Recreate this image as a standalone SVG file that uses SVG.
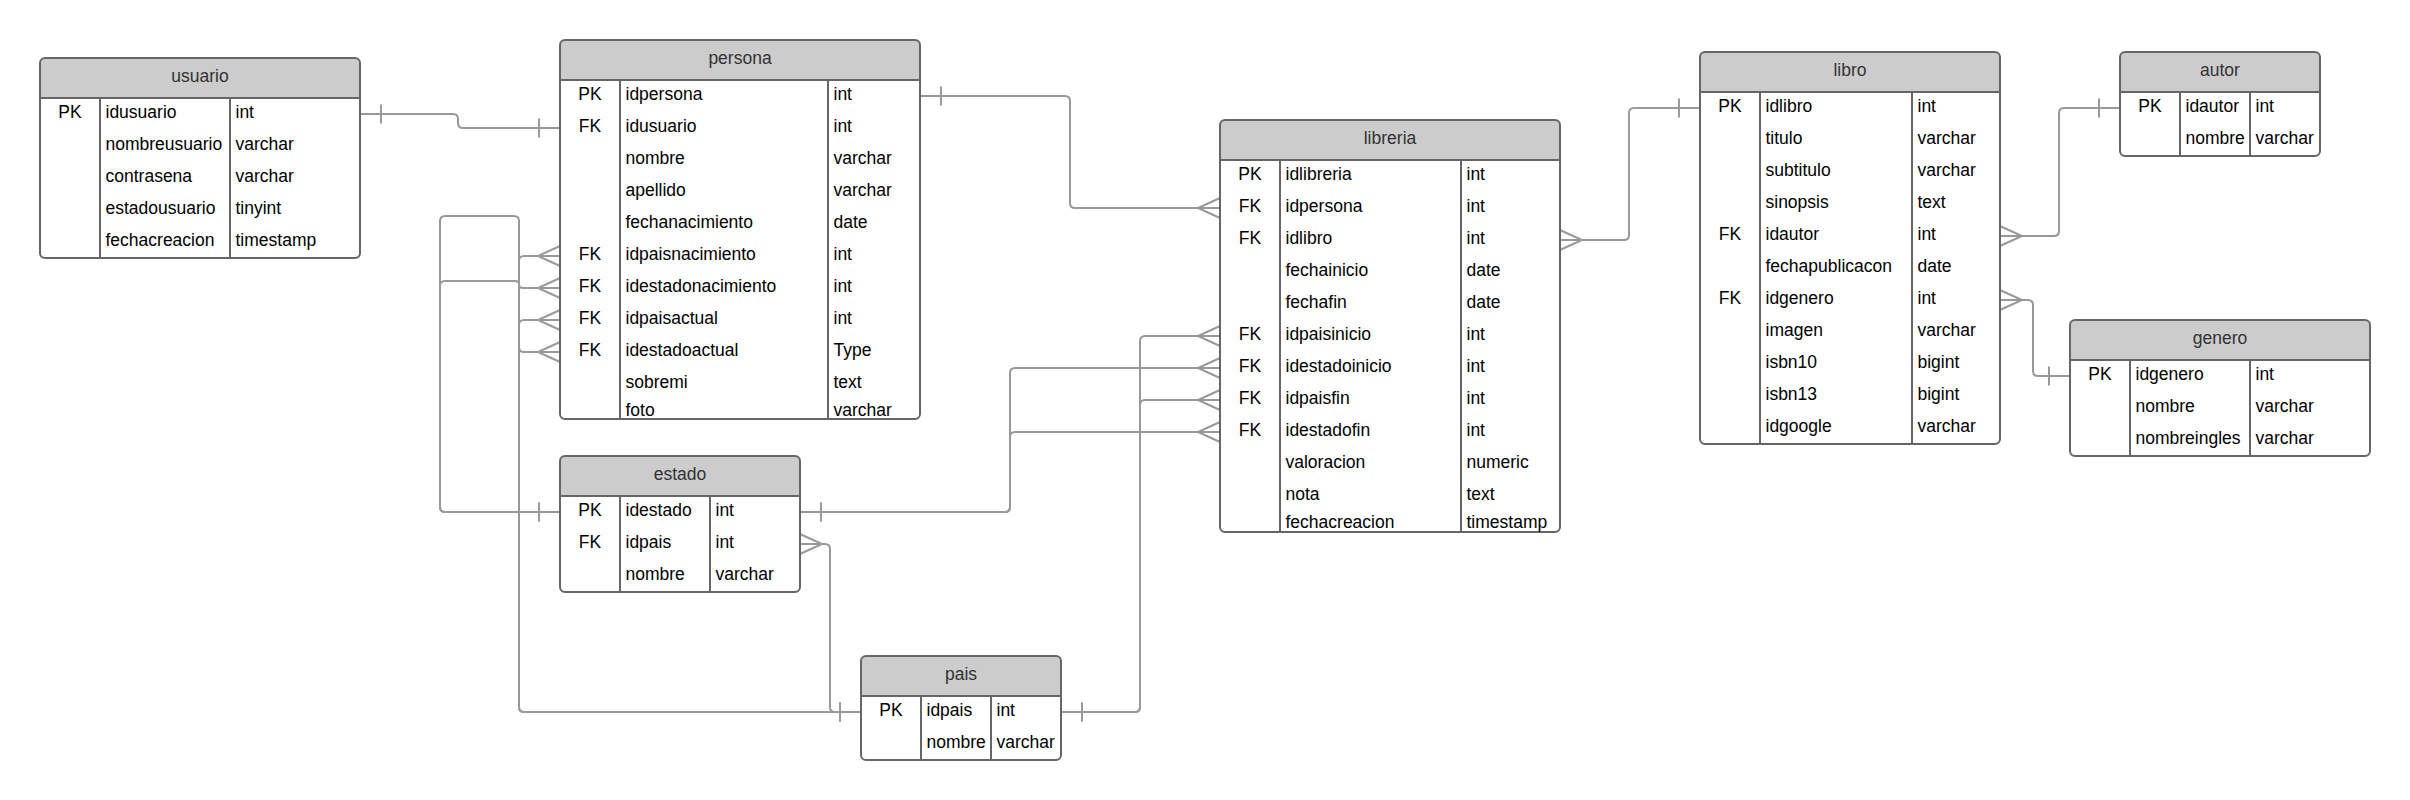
<svg xmlns="http://www.w3.org/2000/svg" width="2410" height="800" viewBox="0 0 2410 800">
<style>
.bg{fill:#fff}
.hd{fill:#ccc}
.box{fill:none;stroke:#666;stroke-width:2}
.ln{stroke:#666;stroke-width:2}
.t{font-family:"Liberation Sans",Arial,sans-serif;font-size:17.5px;fill:#000}
.k{text-anchor:middle}
.ti{font-family:"Liberation Sans",Arial,sans-serif;font-size:17.5px;fill:#333;text-anchor:middle}
.c{fill:none;stroke:#999;stroke-width:2}
.m{fill:none;stroke:#999;stroke-width:2}
.one{marker-end:url(#one)}
</style>
<defs>
<marker id="many" markerUnits="userSpaceOnUse" viewBox="-30 -15 40 30" markerWidth="40" markerHeight="30" refX="0" refY="0" orient="auto-start-reverse" overflow="visible"><path class="m" d="M0,-10 L-22,0 L0,10"/></marker>
<marker id="one" markerUnits="userSpaceOnUse" viewBox="-30 -15 40 30" markerWidth="40" markerHeight="30" refX="0" refY="0" orient="auto-start-reverse" overflow="visible"><path class="m" d="M-21,-9.5 V9.5"/></marker>
</defs>
<rect class="bg" x="0" y="0" width="2410" height="800"/>

<g id="connectors">
<path class="c" marker-start="url(#one)" marker-end="url(#one)" d="M360,114 H453 Q458,114 458,119 V123 Q458,128 463,128 H560"/>
<path class="c" marker-start="url(#one)" marker-end="url(#many)" d="M920,96 H1065 Q1070,96 1070,101 V203 Q1070,208 1075,208 H1220"/>
<path class="c" marker-start="url(#one)" marker-end="url(#many)" d="M560,512 H445 Q440,512 440,507 V286 Q440,281 445,281 H515 Q519,281 519,284.5 Q519,288 523,288 H560"/>
<path class="c" marker-start="url(#one)" marker-end="url(#many)" d="M560,512 H445 Q440,512 440,507 V221 Q440,216 445,216 H514 Q519,216 519,221 V347 Q519,352 524,352 H560"/>
<path class="c" marker-start="url(#one)" marker-end="url(#many)" d="M861,712 H524 Q519,712 519,707 V261 Q519,256 524,256 H560"/>
<path class="c" marker-start="url(#one)" marker-end="url(#many)" d="M861,712 H524 Q519,712 519,707 V325 Q519,320 524,320 H560"/>
<path class="c" marker-start="url(#many)" marker-end="url(#one)" d="M800,544 H825 Q830,544 830,549 V707 Q830,712 835,712 H861"/>
<path class="c" marker-start="url(#one)" marker-end="url(#many)" d="M800,512 H1005 Q1010,512 1010,507 V373 Q1010,368 1015,368 H1220"/>
<path class="c" marker-start="url(#one)" marker-end="url(#many)" d="M800,512 H1005 Q1010,512 1010,507 V437 Q1010,432 1015,432 H1220"/>
<path class="c" marker-start="url(#one)" marker-end="url(#many)" d="M1061,712 H1135 Q1140,712 1140,707 V341 Q1140,336 1145,336 H1220"/>
<path class="c" marker-start="url(#one)" marker-end="url(#many)" d="M1061,712 H1135 Q1140,712 1140,707 V405 Q1140,400 1145,400 H1220"/>
<path class="c" marker-start="url(#many)" marker-end="url(#one)" d="M1560,240 H1624 Q1629,240 1629,235 V113 Q1629,108 1634,108 H1700"/>
<path class="c" marker-start="url(#many)" marker-end="url(#one)" d="M2000,236 H2054 Q2059,236 2059,231 V113 Q2059,108 2064,108 H2120"/>
<path class="c" marker-start="url(#many)" marker-end="url(#one)" d="M2000,300 H2028 Q2033,300 2033,305 V371 Q2033,376 2038,376 H2070"/>
</g>

<g id="usuario">
<rect class="bg" x="40" y="58" width="320" height="200" rx="5"/>
<path class="hd" d="M40,98 V63 Q40,58 45,58 H355 Q360,58 360,63 V98 Z"/>
<line class="ln" x1="40" y1="98" x2="360" y2="98"/>
<line class="ln" x1="100" y1="98" x2="100" y2="258"/>
<line class="ln" x1="230" y1="98" x2="230" y2="258"/>
<rect class="box" x="40" y="58" width="320" height="200" rx="5"/>
<text class="ti" x="200" y="81.5">usuario</text>
<text class="t k" x="70" y="118">PK</text>
<text class="t" x="105.5" y="118">idusuario</text><text class="t" x="235.5" y="118">int</text>
<text class="t" x="105.5" y="150">nombreusuario</text><text class="t" x="235.5" y="150">varchar</text>
<text class="t" x="105.5" y="182">contrasena</text><text class="t" x="235.5" y="182">varchar</text>
<text class="t" x="105.5" y="214">estadousuario</text><text class="t" x="235.5" y="214">tinyint</text>
<text class="t" x="105.5" y="246">fechacreacion</text><text class="t" x="235.5" y="246">timestamp</text>
</g>

<g id="persona">
<rect class="bg" x="560" y="40" width="360" height="379" rx="5"/>
<path class="hd" d="M560,80 V45 Q560,40 565,40 H915 Q920,40 920,45 V80 Z"/>
<line class="ln" x1="560" y1="80" x2="920" y2="80"/>
<line class="ln" x1="620" y1="80" x2="620" y2="419"/>
<line class="ln" x1="828" y1="80" x2="828" y2="419"/>
<rect class="box" x="560" y="40" width="360" height="379" rx="5"/>
<text class="ti" x="740" y="63.5">persona</text>
<text class="t k" x="590" y="100">PK</text><text class="t" x="625.5" y="100">idpersona</text><text class="t" x="833.5" y="100">int</text>
<text class="t k" x="590" y="132">FK</text><text class="t" x="625.5" y="132">idusuario</text><text class="t" x="833.5" y="132">int</text>
<text class="t" x="625.5" y="164">nombre</text><text class="t" x="833.5" y="164">varchar</text>
<text class="t" x="625.5" y="196">apellido</text><text class="t" x="833.5" y="196">varchar</text>
<text class="t" x="625.5" y="228">fechanacimiento</text><text class="t" x="833.5" y="228">date</text>
<text class="t k" x="590" y="260">FK</text><text class="t" x="625.5" y="260">idpaisnacimiento</text><text class="t" x="833.5" y="260">int</text>
<text class="t k" x="590" y="292">FK</text><text class="t" x="625.5" y="292">idestadonacimiento</text><text class="t" x="833.5" y="292">int</text>
<text class="t k" x="590" y="324">FK</text><text class="t" x="625.5" y="324">idpaisactual</text><text class="t" x="833.5" y="324">int</text>
<text class="t k" x="590" y="356">FK</text><text class="t" x="625.5" y="356">idestadoactual</text><text class="t" x="833.5" y="356">Type</text>
<text class="t" x="625.5" y="388">sobremi</text><text class="t" x="833.5" y="388">text</text>
<text class="t" x="625.5" y="416">foto</text><text class="t" x="833.5" y="416">varchar</text>
</g>

<g id="estado">
<rect class="bg" x="560" y="456" width="240" height="136" rx="5"/>
<path class="hd" d="M560,496 V461 Q560,456 565,456 H795 Q800,456 800,461 V496 Z"/>
<line class="ln" x1="560" y1="496" x2="800" y2="496"/>
<line class="ln" x1="620" y1="496" x2="620" y2="592"/>
<line class="ln" x1="710" y1="496" x2="710" y2="592"/>
<rect class="box" x="560" y="456" width="240" height="136" rx="5"/>
<text class="ti" x="680" y="479.5">estado</text>
<text class="t k" x="590" y="516">PK</text><text class="t" x="625.5" y="516">idestado</text><text class="t" x="715.5" y="516">int</text>
<text class="t k" x="590" y="548">FK</text><text class="t" x="625.5" y="548">idpais</text><text class="t" x="715.5" y="548">int</text>
<text class="t" x="625.5" y="580">nombre</text><text class="t" x="715.5" y="580">varchar</text>
</g>

<g id="pais">
<rect class="bg" x="861" y="656" width="200" height="104" rx="5"/>
<path class="hd" d="M861,696 V661 Q861,656 866,656 H1056 Q1061,656 1061,661 V696 Z"/>
<line class="ln" x1="861" y1="696" x2="1061" y2="696"/>
<line class="ln" x1="921" y1="696" x2="921" y2="760"/>
<line class="ln" x1="991" y1="696" x2="991" y2="760"/>
<rect class="box" x="861" y="656" width="200" height="104" rx="5"/>
<text class="ti" x="961" y="679.5">pais</text>
<text class="t k" x="891" y="716">PK</text><text class="t" x="926.5" y="716">idpais</text><text class="t" x="996.5" y="716">int</text>
<text class="t" x="926.5" y="748">nombre</text><text class="t" x="996.5" y="748">varchar</text>
</g>

<g id="libreria">
<rect class="bg" x="1220" y="120" width="340" height="412" rx="5"/>
<path class="hd" d="M1220,160 V125 Q1220,120 1225,120 H1555 Q1560,120 1560,125 V160 Z"/>
<line class="ln" x1="1220" y1="160" x2="1560" y2="160"/>
<line class="ln" x1="1280" y1="160" x2="1280" y2="532"/>
<line class="ln" x1="1461" y1="160" x2="1461" y2="532"/>
<rect class="box" x="1220" y="120" width="340" height="412" rx="5"/>
<text class="ti" x="1390" y="143.5">libreria</text>
<text class="t k" x="1250" y="180">PK</text><text class="t" x="1285.5" y="180">idlibreria</text><text class="t" x="1466.5" y="180">int</text>
<text class="t k" x="1250" y="212">FK</text><text class="t" x="1285.5" y="212">idpersona</text><text class="t" x="1466.5" y="212">int</text>
<text class="t k" x="1250" y="244">FK</text><text class="t" x="1285.5" y="244">idlibro</text><text class="t" x="1466.5" y="244">int</text>
<text class="t" x="1285.5" y="276">fechainicio</text><text class="t" x="1466.5" y="276">date</text>
<text class="t" x="1285.5" y="308">fechafin</text><text class="t" x="1466.5" y="308">date</text>
<text class="t k" x="1250" y="340">FK</text><text class="t" x="1285.5" y="340">idpaisinicio</text><text class="t" x="1466.5" y="340">int</text>
<text class="t k" x="1250" y="372">FK</text><text class="t" x="1285.5" y="372">idestadoinicio</text><text class="t" x="1466.5" y="372">int</text>
<text class="t k" x="1250" y="404">FK</text><text class="t" x="1285.5" y="404">idpaisfin</text><text class="t" x="1466.5" y="404">int</text>
<text class="t k" x="1250" y="436">FK</text><text class="t" x="1285.5" y="436">idestadofin</text><text class="t" x="1466.5" y="436">int</text>
<text class="t" x="1285.5" y="468">valoracion</text><text class="t" x="1466.5" y="468">numeric</text>
<text class="t" x="1285.5" y="500">nota</text><text class="t" x="1466.5" y="500">text</text>
<text class="t" x="1285.5" y="528">fechacreacion</text><text class="t" x="1466.5" y="528">timestamp</text>
</g>

<g id="libro">
<rect class="bg" x="1700" y="52" width="300" height="392" rx="5"/>
<path class="hd" d="M1700,92 V57 Q1700,52 1705,52 H1995 Q2000,52 2000,57 V92 Z"/>
<line class="ln" x1="1700" y1="92" x2="2000" y2="92"/>
<line class="ln" x1="1760" y1="92" x2="1760" y2="444"/>
<line class="ln" x1="1912" y1="92" x2="1912" y2="444"/>
<rect class="box" x="1700" y="52" width="300" height="392" rx="5"/>
<text class="ti" x="1850" y="75.5">libro</text>
<text class="t k" x="1730" y="112">PK</text><text class="t" x="1765.5" y="112">idlibro</text><text class="t" x="1917.5" y="112">int</text>
<text class="t" x="1765.5" y="144">titulo</text><text class="t" x="1917.5" y="144">varchar</text>
<text class="t" x="1765.5" y="176">subtitulo</text><text class="t" x="1917.5" y="176">varchar</text>
<text class="t" x="1765.5" y="208">sinopsis</text><text class="t" x="1917.5" y="208">text</text>
<text class="t k" x="1730" y="240">FK</text><text class="t" x="1765.5" y="240">idautor</text><text class="t" x="1917.5" y="240">int</text>
<text class="t" x="1765.5" y="272">fechapublicacon</text><text class="t" x="1917.5" y="272">date</text>
<text class="t k" x="1730" y="304">FK</text><text class="t" x="1765.5" y="304">idgenero</text><text class="t" x="1917.5" y="304">int</text>
<text class="t" x="1765.5" y="336">imagen</text><text class="t" x="1917.5" y="336">varchar</text>
<text class="t" x="1765.5" y="368">isbn10</text><text class="t" x="1917.5" y="368">bigint</text>
<text class="t" x="1765.5" y="400">isbn13</text><text class="t" x="1917.5" y="400">bigint</text>
<text class="t" x="1765.5" y="432">idgoogle</text><text class="t" x="1917.5" y="432">varchar</text>
</g>

<g id="autor">
<rect class="bg" x="2120" y="52" width="200" height="104" rx="5"/>
<path class="hd" d="M2120,92 V57 Q2120,52 2125,52 H2315 Q2320,52 2320,57 V92 Z"/>
<line class="ln" x1="2120" y1="92" x2="2320" y2="92"/>
<line class="ln" x1="2180" y1="92" x2="2180" y2="156"/>
<line class="ln" x1="2250" y1="92" x2="2250" y2="156"/>
<rect class="box" x="2120" y="52" width="200" height="104" rx="5"/>
<text class="ti" x="2220" y="75.5">autor</text>
<text class="t k" x="2150" y="112">PK</text><text class="t" x="2185.5" y="112">idautor</text><text class="t" x="2255.5" y="112">int</text>
<text class="t" x="2185.5" y="144">nombre</text><text class="t" x="2255.5" y="144">varchar</text>
</g>

<g id="genero">
<rect class="bg" x="2070" y="320" width="300" height="136" rx="5"/>
<path class="hd" d="M2070,360 V325 Q2070,320 2075,320 H2365 Q2370,320 2370,325 V360 Z"/>
<line class="ln" x1="2070" y1="360" x2="2370" y2="360"/>
<line class="ln" x1="2130" y1="360" x2="2130" y2="456"/>
<line class="ln" x1="2250" y1="360" x2="2250" y2="456"/>
<rect class="box" x="2070" y="320" width="300" height="136" rx="5"/>
<text class="ti" x="2220" y="343.5">genero</text>
<text class="t k" x="2100" y="380">PK</text><text class="t" x="2135.5" y="380">idgenero</text><text class="t" x="2255.5" y="380">int</text>
<text class="t" x="2135.5" y="412">nombre</text><text class="t" x="2255.5" y="412">varchar</text>
<text class="t" x="2135.5" y="444">nombreingles</text><text class="t" x="2255.5" y="444">varchar</text>
</g>
</svg>
